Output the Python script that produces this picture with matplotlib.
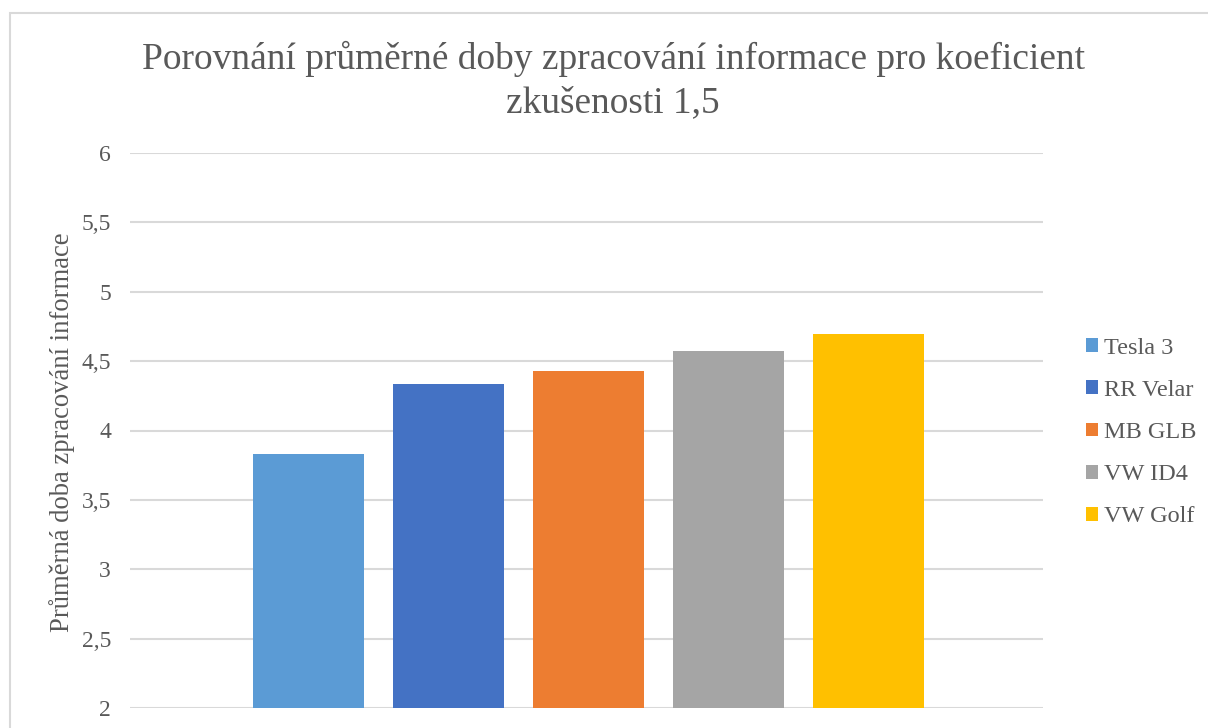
import numpy as np
import matplotlib
matplotlib.use("Agg")
import matplotlib.pyplot as plt
from matplotlib.patches import Rectangle

plt.rcParams['font.family'] = ['Liberation Serif', 'DejaVu Serif']

# data
cars = ["Tesla 3", "RR Velar", "MB GLB", "VW ID4", "VW Golf"]
avg_time = [3.83, 4.335, 4.43, 4.57, 4.695]
colors = ["#5B9BD5", "#4472C4", "#ED7D31", "#A5A5A5", "#FFC000"]
y_ticks = [2, 2.5, 3, 3.5, 4, 4.5, 5, 5.5, 6]

title = "Porovnání průměrné doby zpracování informace pro koeficient\nzkušenosti 1,5"
ylabel = "Průměrná doba zpracování informace"
txt_col = "#595959"
grid_col = "#D9D9D9"

fig = plt.figure(figsize=(12.08, 7.28), dpi=100)
W, H = 1208, 728
ax = fig.add_axes([130 / W, 1 - 708 / H, (1043 - 130) / W, (708 - 153) / H])

x = np.arange(len(cars))
bars = ax.bar(x, np.array(avg_time) - 2, bottom=2, width=0.793,
              color=colors, zorder=3)

ax.set_ylim(2, 6)
ax.set_xlim(-1.275, 5.245)
ax.set_yticks(y_ticks)
ax.set_yticklabels([f"{v:g}".replace(".", ",") for v in y_ticks])
ax.set_xticks([])
ax.tick_params(axis='y', length=0, pad=13.7, labelsize=17, labelcolor=txt_col)
for s in ax.spines.values():
    s.set_visible(False)
ax.grid(axis='y', color=grid_col, lw=1.5, zorder=0)
ax.set_axisbelow(True)

# axis title
fig.text(62 / W, 1 - 432 / H, ylabel, rotation=90, ha='center', va='center',
         fontsize=19.2, color=txt_col)

fig.text(613 / W, 1 - 80.5 / H, title, ha='center', va='center',
         fontsize=26.9, color=txt_col, linespacing=1.31)

leg = fig.legend(bars, cars, loc='upper left',
                 bbox_to_anchor=(1064 / W, 1 - 316 / H), frameon=False,
                 fontsize=17.5, labelcolor=txt_col, handlelength=0.5,
                 handleheight=0.5, handletextpad=0.25, labelspacing=0.87)

# chart border (cropped on right and bottom)
fig.patches.append(Rectangle((10 / W, -0.05), 1.1, 1 - 13 / H + 0.05,
                             transform=fig.transFigure, fill=False,
                             edgecolor=grid_col, lw=1.5))

fig.savefig("out.png", dpi=100)
